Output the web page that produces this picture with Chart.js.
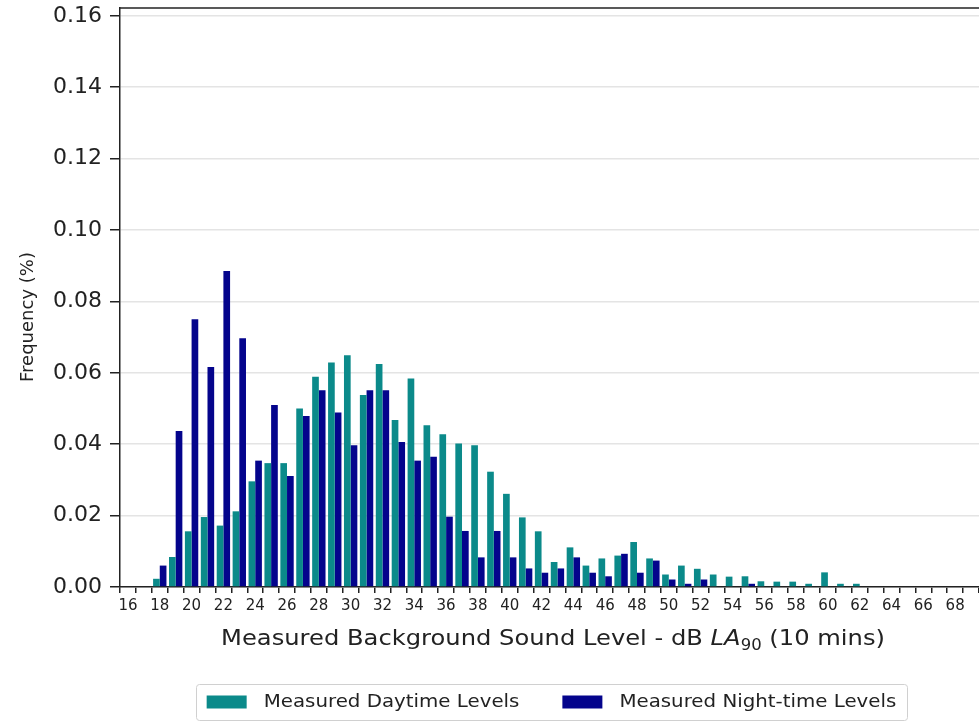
<!DOCTYPE html>
<html>
<head>
<meta charset="utf-8">
<title>Background sound level distribution</title>
<script src="https://cdn.jsdelivr.net/npm/chart.js@4.4.1/dist/chart.umd.min.js"></script>
<style>
  html, body { margin: 0; padding: 0; background: #fff; overflow: hidden; }
  #wrap { position: relative; width: 979px; height: 722px; }
</style>
</head>
<body>
<div id="wrap"><canvas id="chart"></canvas></div>
<script>
// dB LA90 bins (1 dB wide)
const levels = [
  16, 17, 18, 19, 20, 21, 22, 23, 24, 25, 26, 27, 28, 29, 30, 31, 32, 33,
  34, 35, 36, 37, 38, 39, 40, 41, 42, 43, 44, 45, 46, 47, 48, 49, 50, 51,
  52, 53, 54, 55, 56, 57, 58, 59, 60, 61, 62, 63, 64, 65, 66, 67, 68, 69
];

// frequency per bin, daytime measurements
const daytime = [
  0, 0, 0.0023, 0.0084, 0.0156, 0.0196, 0.0172, 0.0212, 0.0296, 0.0347, 0.0347, 0.0500,
  0.0589, 0.0629, 0.0649, 0.0538, 0.0625, 0.0468, 0.0584, 0.0453, 0.0428, 0.0402,
  0.0397, 0.0323, 0.0261, 0.0195, 0.0156, 0.0070, 0.0111, 0.0060, 0.0080, 0.0088,
  0.0126, 0.0080, 0.0035, 0.0060, 0.0051, 0.0035, 0.0029, 0.0030, 0.0016, 0.0015,
  0.0015, 0.0009, 0.0041, 0.0009, 0.0009, 0, 0, 0, 0, 0, 0, 0
];

// frequency per bin, night-time measurements
const nightTime = [
  0, 0, 0.0060, 0.0437, 0.0750, 0.0616, 0.0885, 0.0697, 0.0354, 0.0510, 0.0311, 0.0479,
  0.0551, 0.0489, 0.0397, 0.0551, 0.0551, 0.0406, 0.0354, 0.0365, 0.0197, 0.0157,
  0.0083, 0.0157, 0.0083, 0.0052, 0.0040, 0.0052, 0.0083, 0.0040, 0.0030, 0.0093,
  0.0040, 0.0074, 0.0021, 0.0009, 0.0021, 0, 0, 0.0009, 0, 0,
  0, 0, 0, 0, 0, 0, 0, 0, 0, 0, 0, 0
];

const yTicks = [0, 0.02, 0.04, 0.06, 0.08, 0.10, 0.12, 0.14, 0.16];

const FONT = '"DejaVu Sans", sans-serif';
const INK = '#222';

// top spine of the axes box
const topSpine = {
  id: 'topSpine',
  afterDraw(chart) {
    const { ctx, chartArea: a } = chart;
    ctx.save();
    ctx.strokeStyle = INK;
    ctx.lineWidth = 1.5;
    ctx.beginPath();
    ctx.moveTo(a.left, a.top);
    ctx.lineTo(a.right + 2, a.top);
    ctx.stroke();
    ctx.restore();
  }
};

// axis titles: rotated y label, x label with italic LA and subscript 90
const axisTitles = {
  id: 'axisTitles',
  afterDraw(chart) {
    const ctx = chart.ctx;
    ctx.save();
    ctx.fillStyle = INK;

    // y title
    ctx.save();
    ctx.translate(28, 317);
    ctx.rotate(-Math.PI / 2);
    ctx.font = `18px ${FONT}`;
    ctx.textAlign = 'center';
    ctx.textBaseline = 'middle';
    ctx.fillText('Frequency (%)', 0, 0);
    ctx.restore();

    // x title, slightly widened glyphs
    const stretch = 1.1;
    const parts = [
      { text: 'Measured Background Sound Level - dB ', font: `22px ${FONT}`, dy: 0 },
      { text: 'LA', font: `italic 22px ${FONT}`, dy: 0 },
      { text: '90', font: `15px ${FONT}`, dy: 5 },
      { text: ' (10 mins)', font: `22px ${FONT}`, dy: 0 }
    ];
    ctx.textBaseline = 'alphabetic';
    let total = 0;
    parts.forEach(p => { ctx.font = p.font; p.w = ctx.measureText(p.text).width; total += p.w; });
    ctx.translate(553 - (total * stretch) / 2, 645);
    ctx.scale(stretch, 1);
    let x = 0;
    parts.forEach(p => {
      ctx.font = p.font;
      ctx.fillText(p.text, x, p.dy);
      x += p.w;
    });
    ctx.restore();
  }
};

// framed legend under the axis title
const boxLegend = {
  id: 'boxLegend',
  afterDraw(chart) {
    const ctx = chart.ctx;
    const items = chart.data.datasets.map(d => ({ label: d.label, color: d.backgroundColor }));
    const stretch = 1.1;
    const patchW = 40, patchH = 13, gapText = 17, gapItem = 43, padL = 11, padR = 10;
    ctx.save();
    ctx.font = `18px ${FONT}`;
    items.forEach(it => { it.w = ctx.measureText(it.label).width * stretch; });
    let width = padL + padR;
    items.forEach((it, i) => { width += patchW + gapText + it.w + (i ? gapItem : 0); });
    const left = 551 - width / 2, top = 684, height = 36;
    ctx.strokeStyle = '#d0d0d0';
    ctx.lineWidth = 1;
    ctx.beginPath();
    ctx.roundRect(Math.round(left) + 0.5, top + 0.5, Math.round(width), height, 3);
    ctx.stroke();
    let x = left + padL;
    const cy = top + height / 2;
    ctx.textBaseline = 'middle';
    items.forEach((it, i) => {
      if (i) x += gapItem;
      ctx.fillStyle = it.color;
      ctx.fillRect(x, cy - patchH / 2, patchW, patchH);
      x += patchW + gapText;
      ctx.fillStyle = INK;
      ctx.save();
      ctx.translate(x, cy);
      ctx.scale(stretch, 1);
      ctx.fillText(it.label, 0, 0);
      ctx.restore();
      x += it.w;
    });
    ctx.restore();
  }
};

Chart.defaults.font.family = FONT;
Chart.defaults.color = INK;

new Chart(document.getElementById('chart'), {
  type: 'bar',
  data: {
    labels: levels,
    datasets: [
      { label: 'Measured Daytime Levels', data: daytime, backgroundColor: '#0b8a8a' },
      { label: 'Measured Night-time Levels', data: nightTime, backgroundColor: '#04048c' }
    ]
  },
  options: {
    responsive: true,
    maintainAspectRatio: false,
    animation: false,
    categoryPercentage: 0.84,
    barPercentage: 1.0,
    layout: { padding: { top: 8, right: 0, bottom: 0, left: 0 } },
    plugins: {
      legend: { display: false },
      tooltip: { enabled: false }
    },
    scales: {
      x: {
        type: 'category',
        offset: true,
        afterFit: s => { s.height = 135; s.paddingLeft = 0; s.paddingRight = 0; },
        border: { color: INK, width: 1.5 },
        grid: { offset: true, drawOnChartArea: false, drawTicks: true, tickLength: 6, tickColor: INK, lineWidth: 1.5 },
        ticks: {
          autoSkip: false,
          maxRotation: 0,
          minRotation: 0,
          padding: 4,
          font: { size: 15 },
          callback: (v, i) => (levels[i] % 2 === 0 ? String(levels[i]) : '')
        }
      },
      y: {
        min: 0,
        max: 0.1622,
        afterFit: s => { s.width = 120; s.paddingTop = 0; s.paddingBottom = 0; },
        afterBuildTicks: axis => { axis.ticks = yTicks.map(v => ({ value: v })); },
        border: { color: INK, width: 1.5 },
        grid: { color: '#e4e4e4', lineWidth: 1.5, tickLength: 10, tickColor: INK },
        ticks: {
          padding: 8,
          font: { size: 22 },
          callback: v => v.toFixed(2)
        }
      }
    }
  },
  plugins: [topSpine, axisTitles, boxLegend]
});
</script>
</body>
</html>
